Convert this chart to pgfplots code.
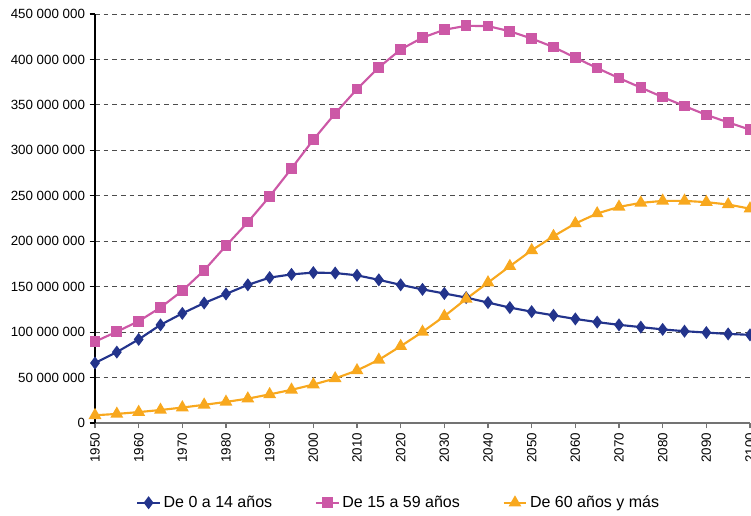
\documentclass[border=0pt]{standalone}
\usepackage{fontspec}
\setmainfont{Liberation Sans}
\usepackage{pgfplots}
\pgfplotsset{compat=1.18}

\definecolor{kids}{RGB}{35,52,140}
\definecolor{adults}{RGB}{204,88,166}
\definecolor{seniors}{RGB}{248,168,30}

\begin{document}
\begin{tikzpicture}
\begin{axis}[
  at={(0,0)}, anchor=south west,
  scale only axis,
  width=491.25pt, height=306.75pt,
  xmin=1950, xmax=2100,
  ymin=0, ymax=450000000,
  xtick={1950,1960,1970,1980,1990,2000,2010,2020,2030,2040,2050,2060,2070,2080,2090,2100},
  ytick={0,50000000,100000000,150000000,200000000,250000000,300000000,350000000,400000000,450000000},
  scaled y ticks=false,
  /pgf/number format/assume math mode=true,
  xticklabel style={font=\fontsize{10}{12}\selectfont, rotate=90, anchor=east,
    /pgf/number format/.cd, 1000 sep={}},
  yticklabel style={font=\fontsize{10}{12}\selectfont,
    /pgf/number format/.cd, fixed, precision=0, 1000 sep={\ }},
  axis x line*=bottom,
  axis y line*=left,
  x axis line style={black!55, line width=0.8pt},
  y axis line style={black, line width=0.8pt},
  tick align=outside,
  major tick length=4pt,
  xtick style={black!55, line width=0.8pt},
  ytick style={black, line width=0.8pt},
  ymajorgrids,
  major grid style={black!70, line width=0.6pt, dash pattern=on 3.5pt off 3pt},
  legend columns=3,
  legend style={draw=none, fill=none, at={(0.464,-0.195)}, anchor=center,
    font=\fontsize{12}{14}\selectfont,
    /tikz/every even column/.append style={column sep=30pt}},
  legend cell align=left,
]
% population aged 0 to 14
\addplot[kids, line width=1.6pt, mark=diamond*, mark size=3.6pt, mark options={solid}] coordinates {
(1950,66000000) (1955,78000000) (1960,92000000) (1965,108000000) (1970,120600000)
(1975,132000000) (1980,142000000) (1985,152000000) (1990,160000000) (1995,163500000)
(2000,165500000) (2005,165000000) (2010,162500000) (2015,157500000) (2020,152000000)
(2025,147000000) (2030,142500000) (2035,138000000) (2040,132500000) (2045,127000000)
(2050,122500000) (2055,118500000) (2060,114500000) (2065,111000000) (2070,108000000)
(2075,105500000) (2080,103000000) (2085,101000000) (2090,99500000) (2095,98000000)
(2100,97000000)};
\addlegendentry{De 0 a 14 años}
% population aged 15 to 59
\addplot[adults, line width=1.6pt, mark=square*, mark size=3.2pt, mark options={solid}] coordinates {
(1950,89500000) (1955,100500000) (1960,112000000) (1965,127000000) (1970,145500000)
(1975,168000000) (1980,195000000) (1985,221000000) (1990,249300000) (1995,280000000)
(2000,311700000) (2005,340600000) (2010,367400000) (2015,391200000) (2020,411000000)
(2025,424000000) (2030,432700000) (2035,437000000) (2040,436700000) (2045,431000000)
(2050,423000000) (2055,413600000) (2060,402000000) (2065,390500000) (2070,379500000)
(2075,369000000) (2080,358600000) (2085,348700000) (2090,339000000) (2095,330800000)
(2100,322700000)};
\addlegendentry{De 15 a 59 años}
% population aged 60 and over
\addplot[seniors, line width=1.6pt, mark=triangle*, mark size=4pt, mark options={solid}] coordinates {
(1950,8500000) (1955,10000000) (1960,12000000) (1965,14300000) (1970,17000000)
(1975,20000000) (1980,23200000) (1985,26800000) (1990,31500000) (1995,36500000)
(2000,42300000) (2005,49000000) (2010,57800000) (2015,69500000) (2020,84500000)
(2025,100200000) (2030,117500000) (2035,136500000) (2040,154500000) (2045,172500000)
(2050,190000000) (2055,205500000) (2060,219500000) (2065,230500000) (2070,237800000)
(2075,242200000) (2080,244400000) (2085,244400000) (2090,243000000) (2095,240400000)
(2100,235800000)};
\addlegendentry{De 60 años y más}
\end{axis}
\pgfresetboundingbox
\path[use as bounding box] (-71.25pt,-69pt) rectangle (492pt,317.25pt);
\end{tikzpicture}
\end{document}
